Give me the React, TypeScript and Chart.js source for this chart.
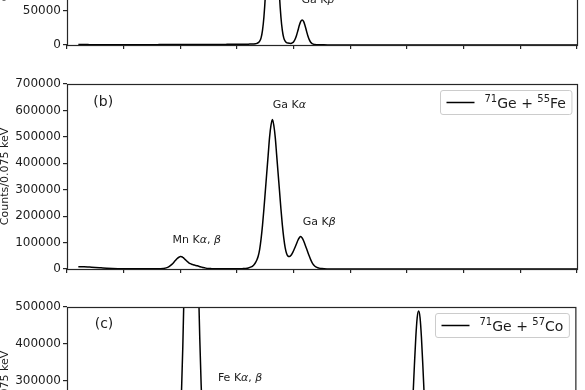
import React, { useEffect, useRef } from 'react';
import { Chart, registerables } from 'chart.js';

Chart.register(...registerables);

// ---------------- data ----------------
const energyKeV = [
  2.4, 2.6, 2.8, 3.0, 3.2, 3.4, 3.6, 3.8, 4.0, 4.5, 5.0,
  5.1, 5.2, 5.3, 5.4, 5.5, 5.6, 5.7, 5.8, 5.9,
  5.95, 6.0, 6.05, 6.1, 6.15, 6.2, 6.25, 6.3, 6.35, 6.4, 6.45, 6.5, 6.55, 6.6, 6.65, 6.7, 6.75, 6.8,
  6.9, 7.0, 7.1, 7.2, 7.3, 7.4, 7.5, 7.6, 7.7, 7.8, 7.9, 8.0,
  8.1, 8.2, 8.3, 8.4, 8.5,
  8.55, 8.6, 8.65, 8.7, 8.75, 8.8, 8.85, 8.9, 8.95, 9.0,
  9.05, 9.1, 9.15, 9.2, 9.25, 9.3, 9.35, 9.4, 9.45, 9.5,
  9.55, 9.6, 9.65, 9.7, 9.75, 9.8, 9.85, 9.9, 9.95, 10.0,
  10.05, 10.1, 10.15, 10.2, 10.25, 10.3, 10.35, 10.4, 10.45, 10.5,
  10.55, 10.6, 10.65, 10.7, 10.75, 10.8, 10.85, 10.9,
  11.0, 11.2, 11.5, 12.0, 12.5, 13.0, 13.5, 13.8, 13.9, 14.0,
  14.1, 14.2, 14.25, 14.3, 14.35, 14.4, 14.45, 14.5, 14.55, 14.6, 14.65, 14.7,
  14.8, 14.9, 15.0, 15.1, 15.3, 15.5, 16.0, 17.0, 18.0, 19.0, 20.0,
];

// (a) 71Ge
const countsGe71 = [
  600, 600, 550, 500, 500, 500, 500, 500, 500, 500, 550,
  550, 550, 600, 600, 600, 600, 650, 650, 650,
  650, 700, 700, 700, 700, 700, 700, 700, 700, 750, 750, 750, 750, 750, 750, 800, 800, 800,
  800, 800, 850, 850, 850, 900, 900, 900, 950, 950, 1000, 1000,
  1050, 1100, 1150, 1250, 1350,
  1400, 1600, 1900, 2400, 3400, 5700, 10500, 21400, 41100, 71600,
  113900, 163300, 211500, 247000, 260000, 247000, 211500, 163300, 113900, 71600,
  41100, 21400, 10500, 5700, 3400, 2800, 2500, 2300, 3100, 4800,
  8500, 14100, 21300, 28900, 34700, 36900, 34700, 28800, 21000, 13700,
  7900, 4100, 2100, 1200, 700, 500, 400, 300,
  250, 150, 100, 50, 0, 0, 0, 0, 0, 0,
  0, 0, 0, 0, 0, 0, 0, 0, 0, 0, 0, 0,
  0, 0, 0, 0, 0, 0, 0, 0, 0, 0, 0,
];

// (b) 71Ge + 55Fe
const countsGe71Fe55 = [
  8500, 8600, 7200, 5800, 4500, 3200, 2200, 1400, 900, 500, 600,
  700, 900, 1300, 2200, 4200, 9000, 17500, 29000, 40500,
  44500, 47000, 46500, 43000, 38000, 33000, 28000, 23500, 20300, 18000, 16400, 15000, 13600, 12000, 10300, 8500, 7000, 5500,
  3300, 2000, 1400, 1000, 850, 800, 800, 850, 900, 950, 1000, 1100,
  1150, 1400, 2100, 3800, 7800,
  11200, 16300, 23600, 33800, 49100, 74600, 114000, 165000, 227000, 295000,
  363000, 431000, 499000, 544000, 566000, 543000, 498000, 431000, 363000, 296000,
  228000, 167000, 118000, 81000, 58500, 48700, 47000, 50700, 59000, 70200,
  82600, 95500, 108700, 118100, 122600, 117300, 107000, 92700, 78100, 63400,
  48800, 35400, 24400, 15900, 10400, 7100, 4900, 3300,
  1500, 400, 100, 50, 0, 0, 0, 0, 0, 0,
  0, 0, 0, 0, 0, 0, 0, 0, 0, 0, 0, 0,
  0, 0, 0, 0, 0, 0, 0, 0, 0, 0, 0,
];

// (c) 71Ge + 57Co
const countsGe71Co57 = [
  5000, 5000, 4500, 4000, 3500, 3000, 2500, 2200, 2000, 2000, 2500,
  3000, 3500, 4000, 5000, 7000, 10000, 16000, 30000, 68000,
  105000, 165000, 260000, 392000, 560000, 748000, 946000, 1119000, 1238000, 1280000, 1238000, 1119000, 946000, 748000, 577000, 418000, 290000, 210000,
  172000, 175000, 171000, 138000, 87000, 44000, 18000, 7000, 4000, 3000, 2800, 2800,
  2800, 3000, 3300, 3800, 4700,
  5500, 7900, 10500, 14100, 19500, 28500, 42500, 60500, 82500, 106500,
  130500, 154500, 178500, 194500, 202500, 194500, 178500, 154500, 130800, 107000,
  83200, 61600, 44100, 30800, 22900, 19300, 18500, 19500, 22100, 25700,
  29700, 33900, 38300, 41300, 42700, 40900, 37700, 32900, 28100, 23300,
  18500, 14100, 10500, 7700, 5900, 4800, 4100, 3600,
  3000, 2600, 2400, 2300, 2300, 2500, 2600, 3000, 6000, 20400,
  68700, 178700, 257000, 341000, 417500, 471500, 489000, 471500, 417500, 341000, 257000, 178700,
  68700, 20400, 6000, 3200, 2500, 2200, 2000, 1800, 1600, 1500, 1400,
];

// axis ticks
const xTicks = [2, 4, 6, 8, 10, 12, 14, 16, 18, 20];
const yTicksA = [0, 50000, 100000, 150000, 200000, 250000];
const yTicksB = [0, 100000, 200000, 300000, 400000, 500000, 600000, 700000];
const yTicksC = [0, 100000, 200000, 300000, 400000, 500000];

const xMin = 2;
const xMax = 20;
const yTitle = 'Counts/0.075 keV';
const xTitle = 'Energy (keV)';

// ---------------- text helpers ----------------
type Seg = { t: string; it?: boolean; sup?: boolean };
type Note = { segs: Seg[]; x: number; y: number; size: number };

const FAMILY = '"DejaVu Sans", "Liberation Sans", sans-serif';
const INK = '#1c1c1c';

function fontFor(s: Seg, size: number) {
  const sz = s.sup ? Math.round(size * 0.7) : size;
  return `${s.it ? 'italic ' : ''}${sz}px ${FAMILY}`;
}
function richWidth(ctx: CanvasRenderingContext2D, segs: Seg[], size: number) {
  let w = 0;
  for (const s of segs) {
    ctx.font = fontFor(s, size);
    w += ctx.measureText(s.t).width;
  }
  return w;
}
function drawRich(ctx: CanvasRenderingContext2D, segs: Seg[], x: number, baseline: number, size: number) {
  let cx = x;
  ctx.textAlign = 'left';
  ctx.textBaseline = 'alphabetic';
  for (const s of segs) {
    ctx.font = fontFor(s, size);
    ctx.fillText(s.t, cx, s.sup ? baseline - size * 0.38 : baseline);
    cx += ctx.measureText(s.t).width;
  }
}

// ---------------- panels ----------------
type PanelCfg = {
  label: string;
  counts: number[];
  yMax: number;
  yTicks: number[];
  legend: Seg[];
  notes: Note[];
  top: number;
  height: number;
  showXLabels: boolean;
};

const PAD_TOP = 20;
const PLOT_H = 185;
const Y_AXIS_W = 67;
const PAD_RIGHT = 8;

const gaKa: Seg[] = [{ t: 'Ga K' }, { t: 'α', it: true }];
const gaKb: Seg[] = [{ t: 'Ga K' }, { t: 'β', it: true }];

const panels: PanelCfg[] = [
  {
    label: '71Ge',
    counts: countsGe71,
    yMax: 272000,
    yTicks: yTicksA,
    legend: [{ t: '71', sup: true }, { t: 'Ge' }],
    notes: [
      { segs: [{ t: '(a)' }], x: 3.28, y: 247000, size: 14 },
      { segs: gaKa, x: 9.85, y: 262000, size: 11 },
      { segs: gaKb, x: 10.86, y: 67600, size: 11 },
    ],
    top: -160,
    height: 223,
    showXLabels: false,
  },
  {
    label: '71Ge + 55Fe',
    counts: countsGe71Fe55,
    yMax: 700000,
    yTicks: yTicksB,
    legend: [{ t: '71', sup: true }, { t: 'Ge + ' }, { t: '55', sup: true }, { t: 'Fe' }],
    notes: [
      { segs: [{ t: '(b)' }], x: 3.28, y: 636000, size: 14 },
      { segs: gaKa, x: 9.85, y: 624000, size: 11 },
      { segs: gaKb, x: 10.9, y: 181600, size: 11 },
      { segs: [{ t: 'Mn K' }, { t: 'α', it: true }, { t: ', ' }, { t: 'β', it: true }], x: 6.58, y: 113500, size: 11 },
    ],
    top: 64,
    height: 223,
    showXLabels: false,
  },
  {
    label: '71Ge + 57Co',
    counts: countsGe71Co57,
    yMax: 500000,
    yTicks: yTicksC,
    legend: [{ t: '71', sup: true }, { t: 'Ge + ' }, { t: '57', sup: true }, { t: 'Co' }],
    notes: [
      { segs: [{ t: '(c)' }], x: 3.31, y: 456800, size: 14 },
      { segs: [{ t: 'Fe K' }, { t: 'α', it: true }, { t: ', ' }, { t: 'β', it: true }], x: 8.13, y: 310800, size: 11 },
    ],
    top: 287,
    height: 262,
    showXLabels: true,
  },
];

function Panel({ cfg }: { cfg: PanelCfg }) {
  const ref = useRef<HTMLCanvasElement>(null);

  useEffect(() => {
    const canvas = ref.current;
    if (!canvas) return;

    const decor = {
      id: 'decor',
      afterDatasetsDraw(chart: any) {
        const { ctx, chartArea: a, scales } = chart;
        ctx.save();
        // full box frame
        ctx.strokeStyle = '#262626';
        ctx.lineWidth = 1.2;
        ctx.strokeRect(a.left + 0.5, a.top + 0.5, a.right - a.left, a.bottom - a.top);
        // annotations
        ctx.fillStyle = INK;
        for (const n of cfg.notes) {
          const w = richWidth(ctx, n.segs, n.size);
          const cx = scales.x.getPixelForValue(n.x);
          const cy = scales.y.getPixelForValue(n.y);
          drawRich(ctx, n.segs, cx - w / 2, cy + n.size * 0.365, n.size);
        }
        // legend (upper right, inside axes)
        const lsize = 14;
        const tw = richWidth(ctx, cfg.legend, lsize);
        const pad = 6;
        const handle = 28;
        const gap = 10;
        const bw = pad + handle + gap + tw + pad;
        const bh = 24;
        const bx = Math.round(a.right - 6 - bw) + 0.5;
        const by = Math.round(a.top + 6) + 0.5;
        ctx.beginPath();
        (ctx as any).roundRect(bx, by, bw, bh, 2.5);
        ctx.fillStyle = 'rgba(255,255,255,0.8)';
        ctx.fill();
        ctx.strokeStyle = '#cccccc';
        ctx.lineWidth = 1;
        ctx.stroke();
        const my = by + bh / 2;
        ctx.beginPath();
        ctx.moveTo(bx + pad, my);
        ctx.lineTo(bx + pad + handle, my);
        ctx.strokeStyle = '#000';
        ctx.lineWidth = 1.5;
        ctx.stroke();
        ctx.fillStyle = INK;
        drawRich(ctx, cfg.legend, bx + pad + handle + gap, my + lsize * 0.365, lsize);
        ctx.restore();
      },
    };

    const tickFont = { family: FAMILY, size: 12 };
    const xAxisH = cfg.height - PAD_TOP - PLOT_H;
    const gridOpts = {
      display: true,
      drawOnChartArea: false,
      drawTicks: true,
      tickLength: 4,
      lineWidth: 1.2,
      color: '#262626',
      tickColor: '#262626',
    };

    const chart = new Chart(canvas, {
      type: 'line',
      data: {
        datasets: [
          {
            label: cfg.label,
            data: energyKeV.map((e, i) => ({ x: e, y: cfg.counts[i] })),
            borderColor: '#000',
            borderWidth: 1.5,
            pointRadius: 0,
            fill: false,
            cubicInterpolationMode: 'monotone',
          },
        ],
      },
      options: {
        responsive: false,
        animation: false,
        devicePixelRatio: 1,
        layout: { padding: { top: PAD_TOP, right: PAD_RIGHT, bottom: 0, left: 0 } },
        plugins: {
          legend: { display: false },
          tooltip: { enabled: false },
        },
        scales: {
          x: {
            type: 'linear',
            min: xMin,
            max: xMax,
            afterBuildTicks: (s: any) => {
              s.ticks = xTicks.map((v) => ({ value: v }));
            },
            ticks: {
              display: cfg.showXLabels,
              font: tickFont,
              color: INK,
              maxRotation: 0,
              autoSkip: false,
              padding: 2,
              callback: (v: any) => String(v),
            },
            grid: gridOpts,
            border: { display: false },
            title: {
              display: cfg.showXLabels,
              text: xTitle,
              font: { family: FAMILY, size: 11 },
              color: INK,
            },
            afterFit: (s: any) => {
              s.height = xAxisH;
            },
          },
          y: {
            type: 'linear',
            min: 0,
            max: cfg.yMax,
            afterBuildTicks: (s: any) => {
              s.ticks = cfg.yTicks.map((v) => ({ value: v }));
            },
            ticks: {
              font: tickFont,
              color: INK,
              padding: 2,
              autoSkip: false,
              callback: (v: any) => String(v),
            },
            grid: gridOpts,
            border: { display: false },
            title: {
              display: true,
              text: yTitle,
              font: { family: FAMILY, size: 11, lineHeight: 0.85 },
              color: INK,
              padding: 0,
            },
            afterFit: (s: any) => {
              s.width = Y_AXIS_W;
            },
          },
        },
      },
      plugins: [decor],
    } as any);

    return () => chart.destroy();
  }, [cfg]);

  return (
    <canvas
      ref={ref}
      width={585}
      height={cfg.height}
      style={{ position: 'absolute', left: 0, top: cfg.top, width: 585, height: cfg.height, display: 'block' }}
    />
  );
}

export default function App() {
  return (
    <div
      style={{
        position: 'fixed',
        left: 0,
        top: 0,
        width: 585,
        height: 390,
        overflow: 'hidden',
        background: '#ffffff',
      }}
    >
      {panels.map((p) => (
        <Panel key={p.label} cfg={p} />
      ))}
    </div>
  );
}
